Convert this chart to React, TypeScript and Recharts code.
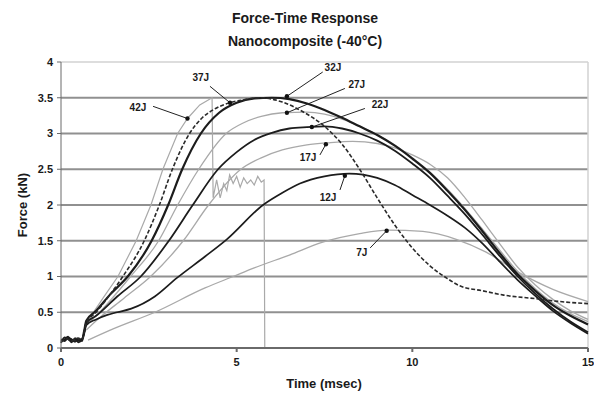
import React from "react";
import {
  LineChart,
  Line,
  XAxis,
  YAxis,
  CartesianGrid,
  ReferenceLine,
  ReferenceDot,
} from "recharts";

// time (msec), force (kN) pairs
const curve7J: [number, number][] = [
  [0.77, 0.11], [1.5, 0.27], [2.67, 0.5], [4.1, 0.84], [4.9, 1.0], [5.5, 1.12],
  [6.5, 1.3], [7.45, 1.48], [8.5, 1.6], [9.3, 1.65], [10.3, 1.63], [11.25, 1.52],
  [12.1, 1.34], [13.05, 1.05], [14.0, 0.82], [15, 0.65],
];
const curve12J: [number, number][] = [
  [0, 0.07], [0.1, 0.15], [0.2, 0.13], [0.3, 0.08], [0.4, 0.14], [0.5, 0.1],
  [0.6, 0.13], [0.66, 0.2], [0.72, 0.32], [1.0, 0.4], [1.3, 0.46], [1.6, 0.5],
  [2.0, 0.55], [2.67, 0.72], [3.3, 0.98], [4.1, 1.28], [4.72, 1.52], [5.75, 2.0],
  [6.3, 2.17], [6.8, 2.3], [7.5, 2.4], [8.2, 2.44], [9.0, 2.38], [9.5, 2.28],
  [10.0, 2.14], [10.5, 2.0], [11.0, 1.85], [11.5, 1.68], [12.0, 1.46], [12.5, 1.2],
  [13.0, 0.95], [13.5, 0.73], [14.0, 0.52], [14.5, 0.35], [15, 0.2],
];
const curve17J: [number, number][] = [
  [0.72, 0.25], [1.0, 0.38], [1.8, 0.7], [2.55, 1.0], [3.48, 1.5], [4.2, 2.0],
  [5.12, 2.5], [5.7, 2.66], [6.3, 2.77], [7.0, 2.84], [7.6, 2.87], [8.3, 2.89],
  [9.0, 2.86], [9.5, 2.8], [10.0, 2.7], [10.5, 2.57], [11.0, 2.38], [11.5, 2.1],
  [12.0, 1.78], [12.5, 1.45], [13.0, 1.13], [13.5, 0.88], [14.0, 0.68],
  [14.5, 0.52], [15, 0.4],
];
const curve22J: [number, number][] = [
  [0, 0.1], [0.1, 0.12], [0.2, 0.16], [0.3, 0.1], [0.4, 0.12], [0.5, 0.08],
  [0.6, 0.12], [0.66, 0.22], [0.72, 0.35], [1.0, 0.45], [1.6, 0.72], [2.27, 1.0],
  [3.07, 1.5], [3.75, 2.0], [4.47, 2.5], [5.0, 2.74], [5.5, 2.91], [6.0, 3.01],
  [6.5, 3.07], [7.0, 3.09], [7.5, 3.1], [8.0, 3.07], [8.5, 3.0], [9.0, 2.9],
  [9.5, 2.76], [10.0, 2.58], [10.5, 2.38], [11.0, 2.13], [11.5, 1.87], [12.0, 1.58],
  [12.5, 1.28], [13.0, 1.0], [13.5, 0.76], [14.0, 0.55], [14.5, 0.37], [15, 0.22],
];
const curve27J: [number, number][] = [
  [0.72, 0.32], [1.0, 0.45], [1.5, 0.72], [1.98, 1.0], [2.78, 1.5], [3.32, 2.0],
  [3.92, 2.5], [4.7, 3.0], [5.2, 3.15], [5.7, 3.24], [6.3, 3.29], [7.0, 3.3],
  [7.5, 3.27], [8.0, 3.2], [8.5, 3.1], [9.0, 2.98], [9.5, 2.84], [10.0, 2.66],
  [10.5, 2.46], [11.0, 2.22], [11.5, 1.95], [12.0, 1.66], [12.5, 1.36], [13.0, 1.07],
  [13.5, 0.83], [14.0, 0.63], [14.5, 0.48], [15, 0.37],
];
const curve32J: [number, number][] = [
  [0, 0.12], [0.1, 0.1], [0.2, 0.14], [0.3, 0.12], [0.4, 0.09], [0.5, 0.13],
  [0.6, 0.1], [0.66, 0.24], [0.72, 0.38], [1.0, 0.52], [1.4, 0.75], [1.9, 1.0],
  [2.58, 1.5], [3.05, 2.0], [3.45, 2.5], [3.98, 3.0], [4.5, 3.29], [5.0, 3.43],
  [5.5, 3.49], [6.0, 3.5], [6.5, 3.48], [7.0, 3.42], [7.5, 3.33], [8.0, 3.22],
  [8.5, 3.1], [9.0, 2.98], [9.5, 2.83], [10.0, 2.65], [10.5, 2.45], [11.0, 2.2],
  [11.5, 1.93], [12.0, 1.63], [12.5, 1.32], [13.0, 1.03], [13.5, 0.8], [14.0, 0.6],
  [14.5, 0.45], [15, 0.33],
];
const curve37J: [number, number][] = [
  [0, 0.08], [0.15, 0.13], [0.3, 0.1], [0.45, 0.14], [0.6, 0.12], [0.72, 0.35],
  [1.0, 0.5], [1.4, 0.75], [1.76, 1.0], [2.37, 1.5], [2.8, 2.0], [3.17, 2.5],
  [3.66, 3.0], [4.0, 3.21], [4.4, 3.35], [4.8, 3.43], [5.2, 3.47], [5.66, 3.5],
  [6.3, 3.44], [6.9, 3.3], [7.45, 3.12], [8.0, 2.85], [8.5, 2.5], [9.0, 2.1],
  [9.5, 1.72], [10.0, 1.4], [10.5, 1.15], [11.0, 0.97], [11.35, 0.87], [12.0, 0.8],
  [12.6, 0.74], [13.5, 0.69], [14.2, 0.65], [15, 0.62],
];
const curve42J: [number, number][] = [
  [0, 0.1], [0.15, 0.14], [0.3, 0.09], [0.45, 0.13], [0.6, 0.11], [0.72, 0.33],
  [0.9, 0.48], [1.2, 0.7], [1.62, 1.0], [2.14, 1.5], [2.56, 2.0], [2.9, 2.5],
  [3.32, 3.0], [3.6, 3.21], [3.95, 3.4], [4.3, 3.5], [4.33, 2.1], [4.43, 2.35],
  [4.53, 2.1], [4.63, 2.3], [4.72, 2.2], [4.8, 2.42], [4.9, 2.3], [5.0, 2.4],
  [5.1, 2.25], [5.2, 2.38], [5.3, 2.3], [5.4, 2.35], [5.5, 2.28], [5.6, 2.4],
  [5.7, 2.32], [5.78, 2.35], [5.8, 0],
];

const xTicks = [0, 5, 10, 15];
const yTicks = [0, 0.5, 1, 1.5, 2, 2.5, 3, 3.5, 4];
const gridValues = [0.5, 1, 1.5, 2, 2.5, 3, 3.5];

// label text position, arrow start, arrow tip (data units)
const callouts = [
  { text: "42J", tx: 2.19, ty: 3.36, x1: 2.62, y1: 3.38, x2: 3.6, y2: 3.21 },
  { text: "37J", tx: 3.98, ty: 3.78, x1: 4.24, y1: 3.66, x2: 4.81, y2: 3.43 },
  { text: "32J", tx: 7.74, ty: 3.92, x1: 7.45, y1: 3.86, x2: 6.43, y2: 3.52 },
  { text: "27J", tx: 8.42, ty: 3.68, x1: 8.08, y1: 3.63, x2: 6.43, y2: 3.29 },
  { text: "22J", tx: 9.08, ty: 3.4, x1: 8.65, y1: 3.35, x2: 7.14, y2: 3.09 },
  { text: "17J", tx: 7.03, ty: 2.67, x1: 7.37, y1: 2.7, x2: 7.54, y2: 2.85 },
  { text: "12J", tx: 7.6, ty: 2.1, x1: 7.94, y1: 2.21, x2: 8.08, y2: 2.41 },
  { text: "7J", tx: 8.56, ty: 1.33, x1: 8.8, y1: 1.4, x2: 9.27, y2: 1.64 },
];

const toPoints = (c: [number, number][]) => c.map(([t, f]) => ({ t, f }));

const DARK = "#1c1c1c";
const LIGHT = "#a9a9a9";
const FONT = '"Liberation Sans", Arial, sans-serif';

const series = [
  { name: "7J", data: curve7J, color: LIGHT, width: 1.3 },
  { name: "17J", data: curve17J, color: LIGHT, width: 1.3 },
  { name: "27J", data: curve27J, color: LIGHT, width: 1.3 },
  { name: "42J", data: curve42J, color: LIGHT, width: 1.2 },
  { name: "12J", data: curve12J, color: DARK, width: 1.7 },
  { name: "22J", data: curve22J, color: DARK, width: 1.8 },
  { name: "32J", data: curve32J, color: DARK, width: 2.2 },
];

const App = () => {
  return (
    <div
      style={{
        position: "absolute",
        left: 0,
        top: 0,
        width: 594,
        height: 398,
        background: "#fff",
        fontFamily: FONT,
        color: "#1a1a1a",
      }}
    >
      <div style={{ position: "absolute", left: 305, top: 18, transform: "translate(-50%,-50%)", fontSize: 14, fontWeight: "bold", whiteSpace: "nowrap" }}>
        Force-Time Response
      </div>
      <div style={{ position: "absolute", left: 305, top: 41, transform: "translate(-50%,-50%)", fontSize: 14, fontWeight: "bold", whiteSpace: "nowrap" }}>
        Nanocomposite (-40°C)
      </div>
      <div style={{ position: "absolute", left: 22, top: 205, transform: "translate(-50%,-50%) rotate(-90deg)", fontSize: 13, fontWeight: "bold", whiteSpace: "nowrap" }}>
        Force (kN)
      </div>
      <div style={{ position: "absolute", left: 324, top: 383, transform: "translate(-50%,-50%)", fontSize: 13, fontWeight: "bold", whiteSpace: "nowrap" }}>
        Time (msec)
      </div>
      <LineChart
        width={594}
        height={398}
        margin={{ top: 62, right: 6, bottom: 8, left: 10 }}
        style={{ position: "absolute", left: 0, top: 0 }}
      >
        <CartesianGrid
          horizontal={true}
          vertical={false}
          horizontalValues={gridValues}
          stroke="#909090"
          strokeWidth={2.2}
        />
        <XAxis
          type="number"
          dataKey="t"
          domain={[0, 15]}
          ticks={xTicks}
          height={42}
          tickSize={4}
          tickMargin={6}
          stroke="#6a6a6a"
          strokeWidth={2}
          tick={{ fill: "#1a1a1a", fontSize: 11, fontWeight: "bold", fontFamily: FONT }}
        />
        <YAxis
          type="number"
          dataKey="f"
          domain={[0, 4]}
          ticks={yTicks}
          width={51}
          tickSize={4}
          tickMargin={4}
          stroke="#6a6a6a"
          tick={{ fill: "#1a1a1a", fontSize: 11, fontWeight: "bold", fontFamily: FONT }}
        />
        <ReferenceLine y={4} stroke="#d2d2d2" strokeWidth={1.5} />
        <ReferenceLine x={15} stroke="#d2d2d2" strokeWidth={1.5} />
        {series.map((s) => (
          <Line
            key={s.name}
            data={toPoints(s.data)}
            dataKey="f"
            type={s.name === "42J" ? "linear" : "monotone"}
            stroke={s.color}
            strokeWidth={s.width}
            dot={false}
            isAnimationActive={false}
          />
        ))}
        <Line
          data={toPoints(curve37J)}
          dataKey="f"
          type="monotone"
          stroke="#2a2a2a"
          strokeWidth={1.6}
          strokeDasharray="4 2"
          dot={false}
          isAnimationActive={false}
        />
        {callouts.map((c) => (
          <ReferenceLine
            key={`l-${c.text}`}
            segment={[
              { x: c.x1, y: c.y1 },
              { x: c.x2, y: c.y2 },
            ]}
            stroke="#222"
            strokeWidth={1}
          />
        ))}
        {callouts.map((c) => (
          <ReferenceDot
            key={`d-${c.text}`}
            x={c.x2}
            y={c.y2}
            r={2.2}
            fill="#111"
            stroke="none"
          />
        ))}
        {callouts.map((c) => (
          <ReferenceDot
            key={`t-${c.text}`}
            x={c.tx}
            y={c.ty}
            r={0}
            stroke="none"
            fill="none"
            label={{
              value: c.text,
              position: "center",
              fill: "#1a1a1a",
              fontSize: 10,
              fontWeight: "bold",
              fontFamily: FONT,
            }}
          />
        ))}
      </LineChart>
    </div>
  );
};

export default App;
